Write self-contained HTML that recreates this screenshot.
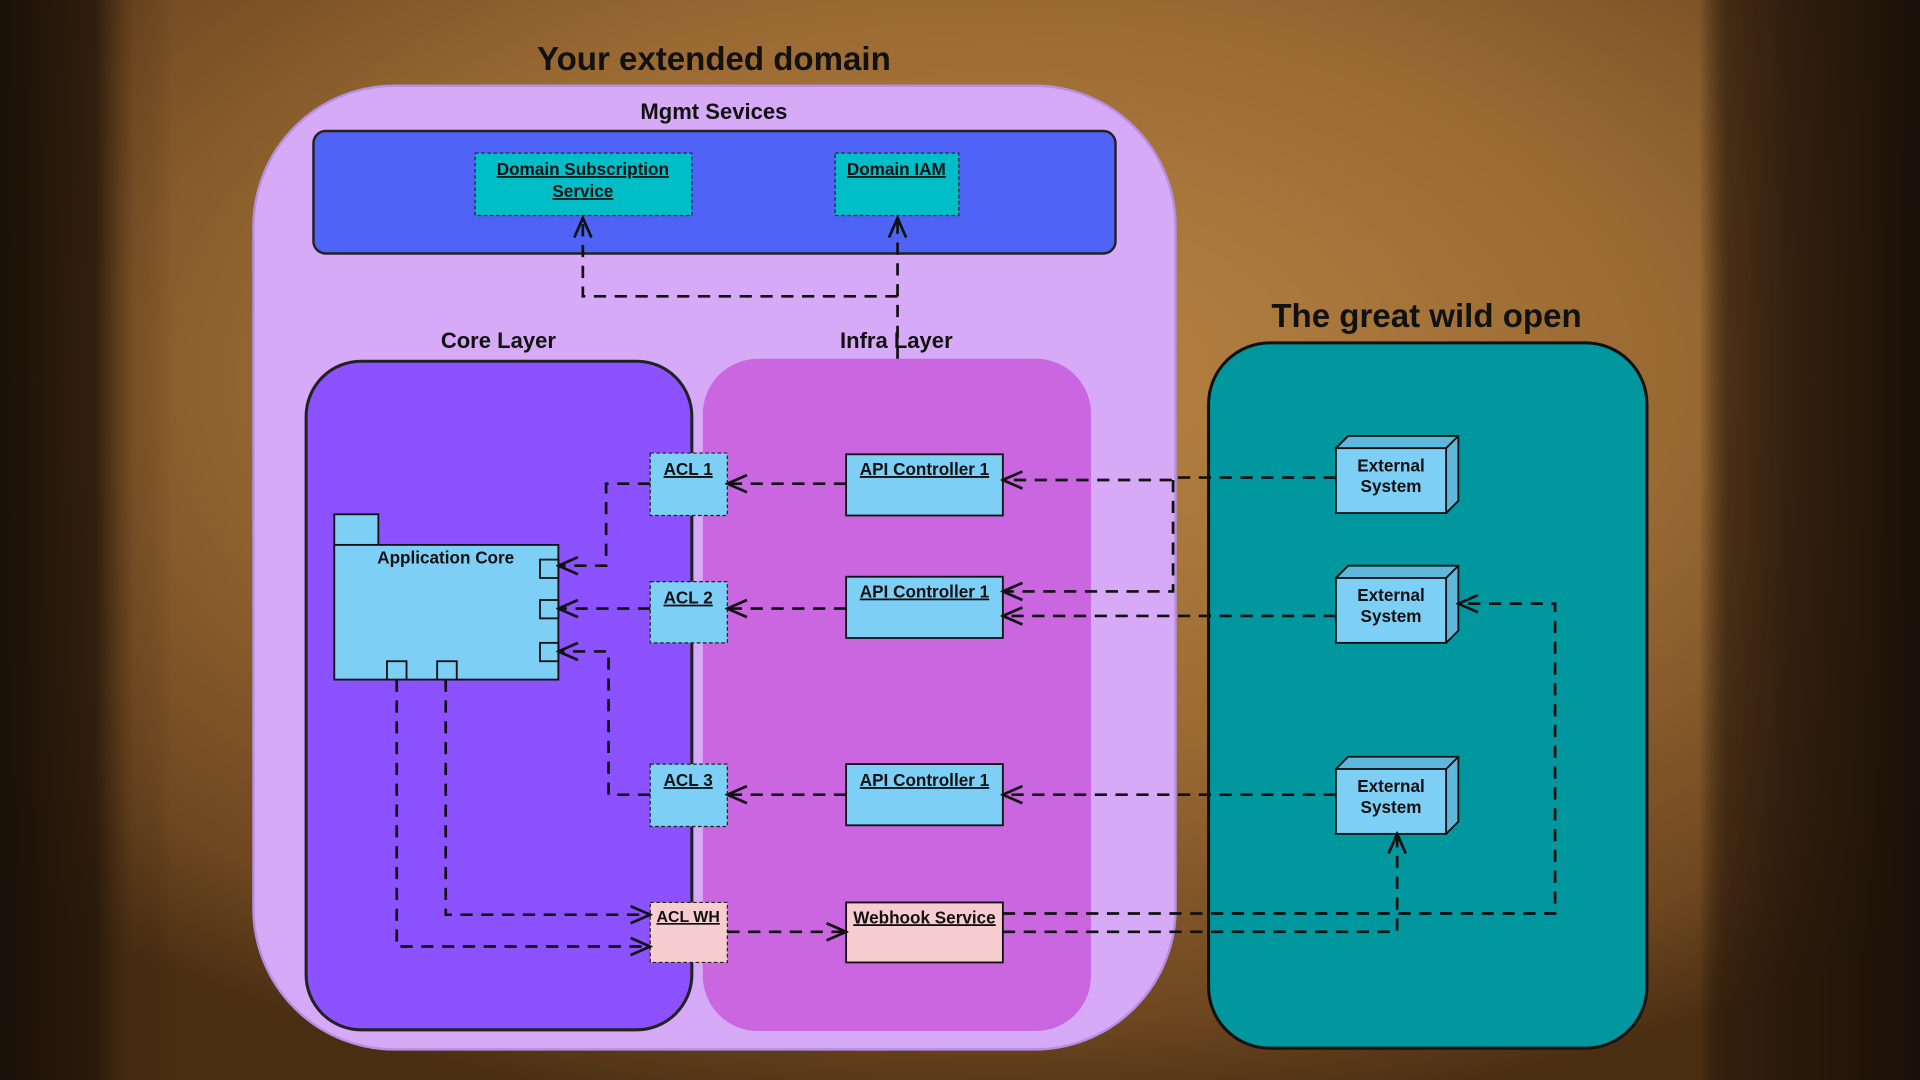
<!DOCTYPE html>
<html><head><meta charset="utf-8"><style>
html,body{margin:0;padding:0;width:1920px;height:1080px;overflow:hidden;background:#3a2410}
svg{display:block}
text{font-family:"Liberation Sans",sans-serif;font-weight:bold;fill:#111}
</style></head><body>
<svg width="1920" height="1080" viewBox="0 0 1568 882" xmlns="http://www.w3.org/2000/svg">
<defs>
<radialGradient id="bg" cx="52%" cy="35%" r="70%">
<stop offset="0" stop-color="#b98544"/><stop offset="0.5" stop-color="#9a6a33"/><stop offset="0.85" stop-color="#6e4720"/><stop offset="1" stop-color="#4a2e12"/>
</radialGradient>
<linearGradient id="lr" x1="0" x2="1">
<stop offset="0" stop-color="#1a1007" stop-opacity="1"/><stop offset="0.05" stop-color="#24160a" stop-opacity="0.85"/><stop offset="0.07" stop-color="#3a2410" stop-opacity="0.2"/><stop offset="0.09" stop-color="#000" stop-opacity="0"/><stop offset="0.885" stop-color="#000" stop-opacity="0"/><stop offset="0.9" stop-color="#2a180a" stop-opacity="0.7"/><stop offset="0.93" stop-color="#24160a" stop-opacity="0.85"/><stop offset="1" stop-color="#1a1007" stop-opacity="1"/>
</linearGradient>
<marker id="a" viewBox="0 0 20 20" refX="18" refY="10" markerWidth="20" markerHeight="20" markerUnits="userSpaceOnUse" orient="auto">
<path d="M2,3 L18,10 L2,17" fill="none" stroke="#111" stroke-width="2.2"/>
</marker>
</defs>
<rect width="1568" height="882" fill="url(#bg)"/>
<rect width="1568" height="882" fill="url(#lr)"/>

<text x="583" y="57" font-size="27" text-anchor="middle">Your extended domain</text>
<rect x="207" y="70" width="753" height="787" rx="115" fill="#d6aaf6" stroke="#b590e2" stroke-width="2"/>
<text x="583" y="97" font-size="18" text-anchor="middle">Mgmt Sevices</text>
<rect x="256" y="107" width="655" height="100" rx="10" fill="#4f63f6" stroke="#222" stroke-width="2"/>
<rect x="388" y="125" width="177" height="51" fill="#00bec8" stroke="#222" stroke-dasharray="3 2"/>
<text x="476" y="143" font-size="14" text-anchor="middle" text-decoration="underline">Domain Subscription</text>
<text x="476" y="161" font-size="14" text-anchor="middle" text-decoration="underline">Service</text>
<rect x="682" y="125" width="101" height="51" fill="#00bec8" stroke="#222" stroke-dasharray="3 2"/>
<text x="732" y="143" font-size="14" text-anchor="middle" text-decoration="underline">Domain IAM</text>

<text x="407" y="284" font-size="18" text-anchor="middle">Core Layer</text>
<text x="732" y="284" font-size="18" text-anchor="middle">Infra Layer</text>
<rect x="250" y="295" width="315" height="546" rx="45" fill="#8c52ff" stroke="#222" stroke-width="2.5"/>
<rect x="574" y="293" width="317" height="549" rx="45" fill="#c966e0"/>

<text x="1165" y="267" font-size="27" text-anchor="middle">The great wild open</text>
<rect x="987" y="280" width="358" height="576" rx="50" fill="#00979f" stroke="#111" stroke-width="2.5"/>

<g font-size="14" text-anchor="middle" text-decoration="underline">
<rect x="531" y="370" width="63" height="51" fill="#7dcff5" stroke="#222" stroke-dasharray="3 2"/><text x="562" y="388">ACL 1</text>
<rect x="531" y="475" width="63" height="50" fill="#7dcff5" stroke="#222" stroke-dasharray="3 2"/><text x="562" y="493">ACL 2</text>
<rect x="531" y="624" width="63" height="51" fill="#7dcff5" stroke="#222" stroke-dasharray="3 2"/><text x="562" y="642">ACL 3</text>
<rect x="531" y="737" width="63" height="49" fill="#f8cdd0" stroke="#222" stroke-dasharray="3 2"/><text x="562" y="753" font-size="13">ACL WH</text>
<rect x="691" y="371" width="128" height="50" fill="#7dcff5" stroke="#111" stroke-width="1.5"/><text x="755" y="388">API Controller 1</text>
<rect x="691" y="471" width="128" height="50" fill="#7dcff5" stroke="#111" stroke-width="1.5"/><text x="755" y="488">API Controller 1</text>
<rect x="691" y="624" width="128" height="50" fill="#7dcff5" stroke="#111" stroke-width="1.5"/><text x="755" y="642">API Controller 1</text>
<rect x="691" y="737" width="128" height="49" fill="#f8cdd0" stroke="#111" stroke-width="1.5"/><text x="755" y="754">Webhook Service</text>
</g>

<g fill="#7dcff5" stroke="#111" stroke-width="1.5">
<rect x="273" y="420" width="36" height="25"/>
<rect x="273" y="445" width="183" height="110"/>
<rect x="441" y="457" width="15" height="15"/><rect x="441" y="490" width="15" height="15"/><rect x="441" y="525" width="15" height="15"/>
<rect x="316" y="540" width="16" height="15"/><rect x="357" y="540" width="16" height="15"/>
</g>
<text x="364" y="460" font-size="14" text-anchor="middle">Application Core</text>

<g stroke="#111" stroke-width="1.5" fill="#7dcff5">
<g><path d="M1091,366 l10,-10 h90 v53 l-10,10 z" fill="#5fb8dc"/><rect x="1091" y="366" width="90" height="53"/><path d="M1181,366 l10,-10" fill="none"/></g>
<g><path d="M1091,472 l10,-10 h90 v53 l-10,10 z" fill="#5fb8dc"/><rect x="1091" y="472" width="90" height="53"/><path d="M1181,472 l10,-10" fill="none"/></g>
<g><path d="M1091,628 l10,-10 h90 v53 l-10,10 z" fill="#5fb8dc"/><rect x="1091" y="628" width="90" height="53"/><path d="M1181,628 l10,-10" fill="none"/></g>
</g>
<g font-size="14" text-anchor="middle">
<text x="1136" y="385">External</text><text x="1136" y="402">System</text>
<text x="1136" y="491">External</text><text x="1136" y="508">System</text>
<text x="1136" y="647">External</text><text x="1136" y="664">System</text>
</g>

<g fill="none" stroke="#111" stroke-width="2.2" stroke-dasharray="10 7" marker-end="url(#a)">
<path d="M733,293 V178"/>
<path d="M733,242 H476 V178"/>
<path d="M1091,390 H958 V392 H819"/>
<path d="M958,392 V483 H819"/>
<path d="M1091,503 H819"/>
<path d="M1091,649 H819"/>
<path d="M691,395 H594"/>
<path d="M691,497 H594"/>
<path d="M691,649 H594"/>
<path d="M531,395 H495 V462 H456"/>
<path d="M531,497 H456"/>
<path d="M531,649 H497 V532 H456"/>
<path d="M324,555 V773 H531"/>
<path d="M364,555 V747 H531"/>
<path d="M594,761 H691"/>
<path d="M819,746 H1270 V493 H1191"/>
<path d="M819,761 H1141 V681"/>
</g>
</svg>
</body></html>
